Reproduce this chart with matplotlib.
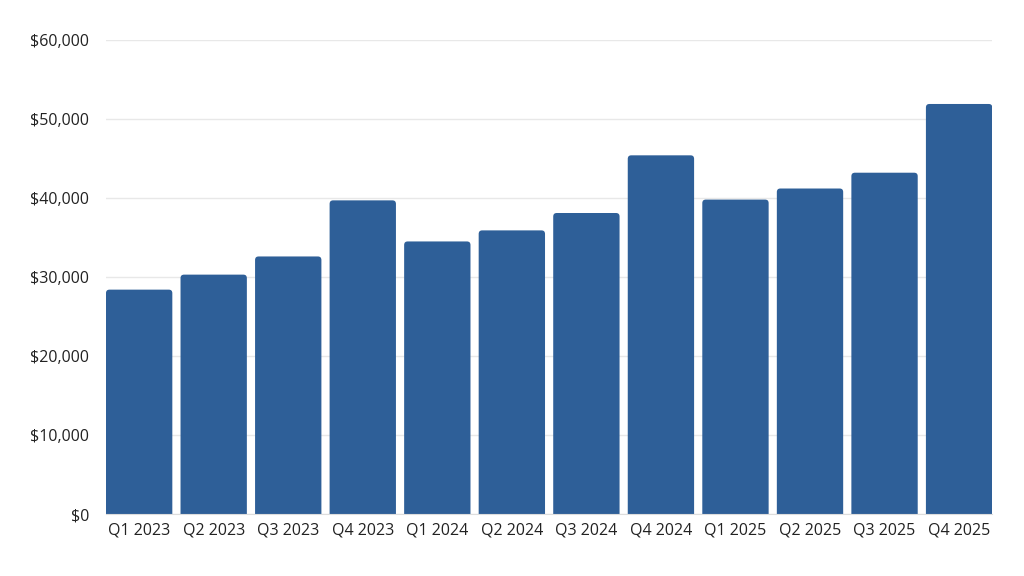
import matplotlib
matplotlib.use("Agg")
import matplotlib.pyplot as plt
from matplotlib.patches import FancyBboxPatch
from matplotlib.ticker import FuncFormatter

quarters = ["Q1 2023", "Q2 2023", "Q3 2023", "Q4 2023",
            "Q1 2024", "Q2 2024", "Q3 2024", "Q4 2024",
            "Q1 2025", "Q2 2025", "Q3 2025", "Q4 2025"]
revenue = [28400, 30300, 32600, 39700,
           34500, 35900, 38100, 45400,
           39800, 41200, 43200, 51900]
y_ticks = [0, 10000, 20000, 30000, 40000, 50000, 60000]

BAR_COLOR = "#2e5f98"
TEXT_COLOR = "#222222"
GRID_COLOR = "#e8e8e8"
WIDTH = 0.89

plt.rcParams["font.family"] = ["Open Sans", "DejaVu Sans"]

fig = plt.figure(figsize=(10.24, 5.76), dpi=100)
ax = fig.add_axes([0.1035, 0.1076, 0.8655, 0.823])

x = list(range(len(quarters)))
bars = ax.bar(x, revenue, width=WIDTH, color=BAR_COLOR, zorder=3)

ax.set_xlim(-WIDTH / 2, len(quarters) - 1 + WIDTH / 2)
ax.set_ylim(0, 60000)

# swap plain bars for ones with slightly rounded tops
fig.canvas.draw()
px_x = ax.transData.transform((1, 0))[0] - ax.transData.transform((0, 0))[0]
px_y = ax.transData.transform((0, 1000))[1] - ax.transData.transform((0, 0))[1]
rad = 3.5 / px_x
aspect = (px_x / px_y) * 1000
for b in bars:
    b.set_visible(False)
    x0, w, h = b.get_x(), b.get_width(), b.get_height()
    ax.add_patch(FancyBboxPatch((x0 + rad, -3000), w - 2 * rad, h + 3000 - rad * aspect,
                                boxstyle=f"round,pad={rad}", mutation_aspect=aspect,
                                facecolor=BAR_COLOR, edgecolor="none", zorder=3))

ax.set_xticks(x)
ax.set_xticklabels(quarters)
ax.set_yticks(y_ticks)
ax.yaxis.set_major_formatter(FuncFormatter(lambda v, _: f"${v:,.0f}"))
ax.tick_params(axis="both", length=0, labelsize=11.5, labelcolor=TEXT_COLOR)
ax.tick_params(axis="y", pad=12)
ax.tick_params(axis="x", pad=6)

ax.grid(axis="y", color=GRID_COLOR, linewidth=1, zorder=0)
for s in ["top", "right", "left"]:
    ax.spines[s].set_visible(False)
ax.spines["bottom"].set_color("#dddddd")
ax.spines["bottom"].set_zorder(4)

fig.savefig("out.png", dpi=100, facecolor="white")
